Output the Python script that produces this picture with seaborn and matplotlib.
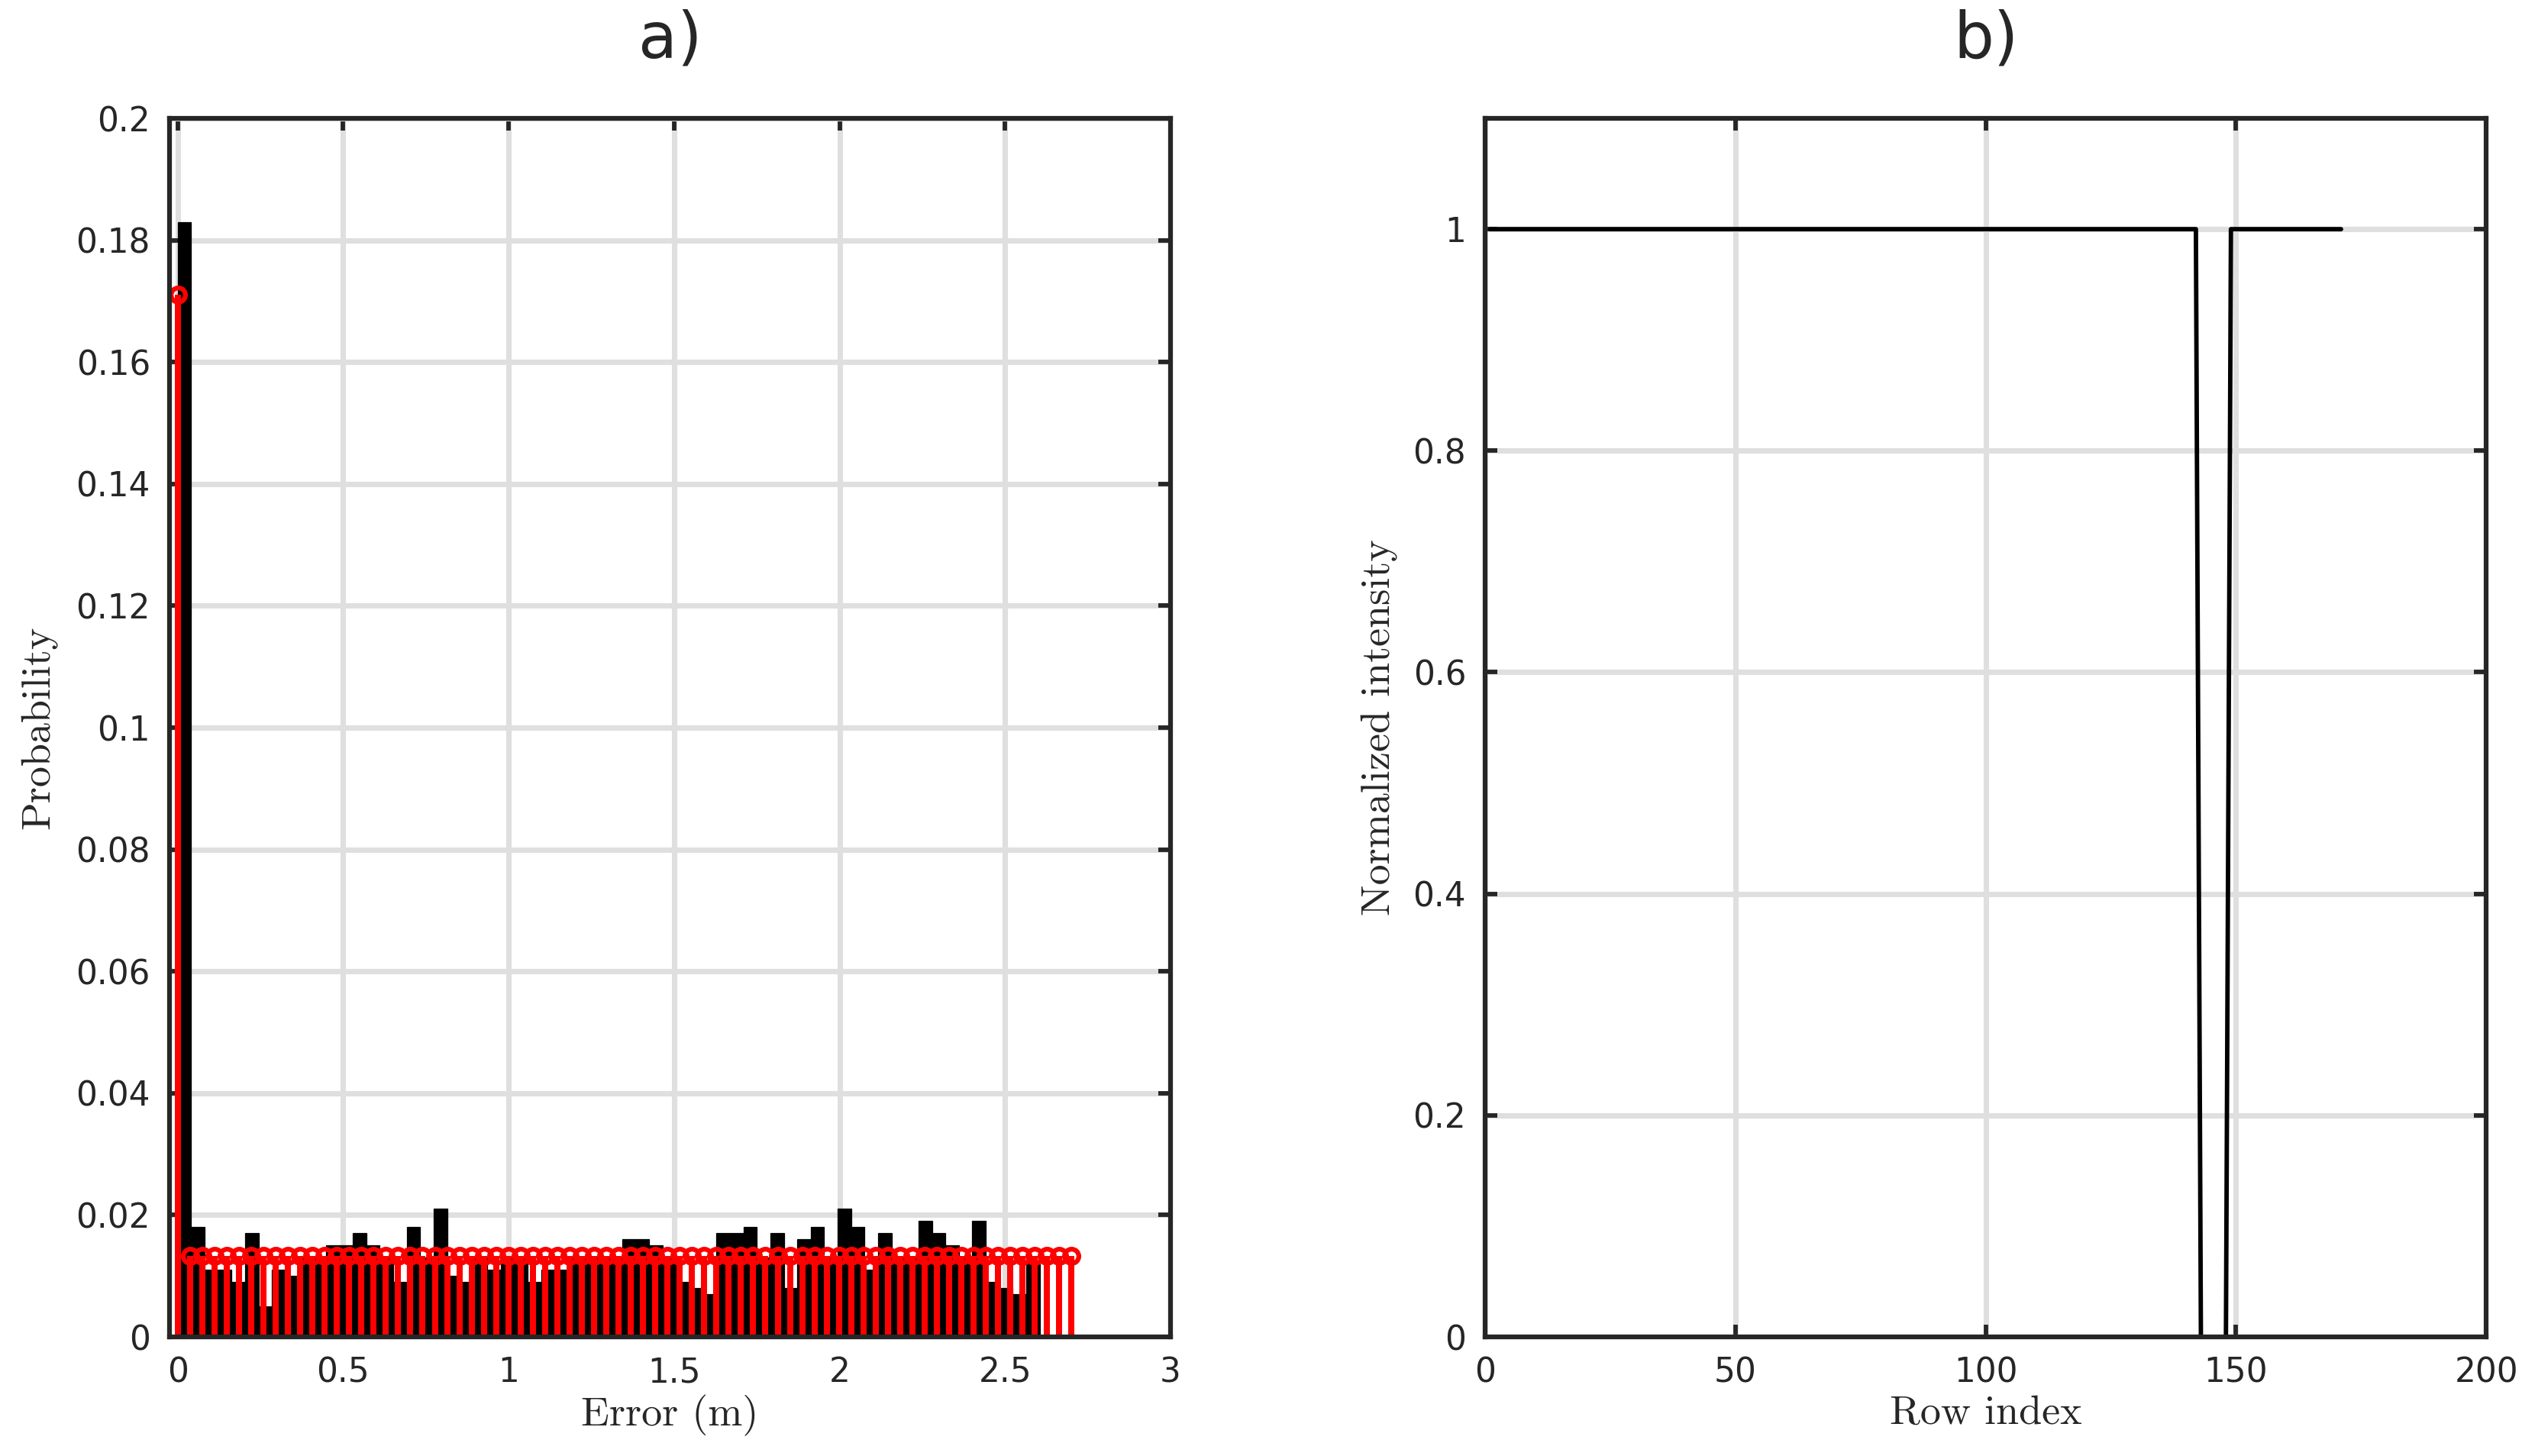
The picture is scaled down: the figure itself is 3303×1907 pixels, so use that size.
import numpy as np
import matplotlib
matplotlib.use("Agg")
import matplotlib.pyplot as plt
import pandas as pd
import seaborn as sns

sns.set_style("ticks")
plt.rcParams["font.family"] = ["DejaVu Sans"]

# a) error histogram (probability per bin), 64 bins starting at 0
err_bin_width = 0.0407
err_probs = [
    0.183, 0.018, 0.011, 0.011, 0.009, 0.017, 0.005, 0.011, 0.010, 0.013,
    0.013, 0.015, 0.015, 0.017, 0.015, 0.013, 0.009, 0.018, 0.013, 0.021,
    0.010, 0.009, 0.013, 0.011, 0.013, 0.013, 0.009, 0.011, 0.011, 0.013,
    0.013, 0.013, 0.013, 0.016, 0.016, 0.015, 0.013, 0.009, 0.008, 0.007,
    0.017, 0.017, 0.018, 0.013, 0.017, 0.008, 0.016, 0.018, 0.013, 0.021,
    0.018, 0.011, 0.017, 0.013, 0.013, 0.019, 0.017, 0.015, 0.013, 0.019,
    0.009, 0.008, 0.007, 0.012,
]

# a) red stem values
stem_x = [
    0.000, 0.037, 0.074, 0.111, 0.148, 0.185, 0.222, 0.259, 0.296, 0.333,
    0.370, 0.407, 0.444, 0.481, 0.518, 0.555, 0.592, 0.629, 0.666, 0.703,
    0.740, 0.777, 0.814, 0.851, 0.888, 0.925, 0.962, 0.999, 1.036, 1.073,
    1.110, 1.147, 1.184, 1.221, 1.258, 1.295, 1.332, 1.369, 1.406, 1.443,
    1.480, 1.517, 1.554, 1.591, 1.628, 1.665, 1.702, 1.739, 1.776, 1.813,
    1.850, 1.887, 1.924, 1.961, 1.998, 2.035, 2.072, 2.109, 2.146, 2.183,
    2.220, 2.257, 2.294, 2.331, 2.368, 2.405, 2.442, 2.479, 2.516, 2.553,
    2.590, 2.627, 2.664, 2.701,
]
stem_p = [0.171] + [0.0133] * 73

# b) intensity profile
row_idx = [1, 142, 143, 148, 149, 171]
intensity = [1, 1, 0, 0, 1, 1]

DARK = "#262626"
GRID = "#dfdfdf"

fig = plt.figure(figsize=(3303 / 300, 1907 / 300), dpi=300)
ax1 = fig.add_axes([0.0672, 0.0818, 0.3969, 0.8369])
ax2 = fig.add_axes([0.5889, 0.0818, 0.3969, 0.8369])

serif = {"family": "cmr10", "size": 13}

# ---- panel a
n_bins = len(err_probs)
centers = (np.arange(n_bins) + 0.5) * err_bin_width
hist_df = pd.DataFrame({"err": centers, "p": err_probs})
sns.histplot(data=hist_df, x="err", weights="p", bins=n_bins,
             binrange=(0, n_bins * err_bin_width), stat="count",
             color="black", alpha=1, edgecolor="black", linewidth=0.3,
             ax=ax1, zorder=2)
markerline, stemlines, baseline = ax1.stem(stem_x, stem_p, basefmt=" ")
plt.setp(stemlines, color="#ff0000", linewidth=1.45, zorder=3,
         antialiased=False)
plt.setp(markerline, color="#ff0000", marker="o", markersize=4.5,
         markerfacecolor="none", markeredgewidth=1.5, zorder=4)
ax1.set_xlim(-0.025, 3)
ax1.set_ylim(0, 0.2)
ax1.set_xticks([0, 0.5, 1, 1.5, 2, 2.5, 3])
ax1.set_xticklabels(["0", "0.5", "1", "1.5", "2", "2.5", "3"])
ax1.set_yticks(np.arange(0, 0.201, 0.02))
ax1.set_yticklabels(["0", "0.02", "0.04", "0.06", "0.08", "0.1", "0.12",
                     "0.14", "0.16", "0.18", "0.2"])
ax1.set_xlabel("Error (m)", fontdict=serif, labelpad=2)
ax1.set_ylabel("Probability", fontdict=serif, labelpad=6)
ax1.set_title("a)", fontsize=20, pad=19)

# ---- panel b
sns.lineplot(x=row_idx, y=intensity, color="black", linewidth=1.4,
             estimator=None, ax=ax2, zorder=3)
ax2.set_xlim(0, 200)
ax2.set_ylim(0, 1.1)
ax2.set_xticks([0, 50, 100, 150, 200])
ax2.set_yticks([0, 0.2, 0.4, 0.6, 0.8, 1])
ax2.set_yticklabels(["0", "0.2", "0.4", "0.6", "0.8", "1"])
ax2.set_xlabel("Row index", fontdict=serif, labelpad=2)
ax2.set_ylabel("Normalized intensity", fontdict=serif, labelpad=5)
ax2.set_title("b)", fontsize=20, pad=19)

for ax in (ax1, ax2):
    ax.set_axisbelow(True)
    ax.grid(True, color=GRID, linewidth=1.7)
    for sp in ax.spines.values():
        sp.set_visible(True)
        sp.set_color(DARK)
        sp.set_linewidth(1.5)
        sp.set_zorder(5)
    ax.tick_params(direction="in", length=3.8, width=1.4, color=DARK,
                   labelcolor=DARK, labelsize=10.5, top=True, right=True, pad=6)

fig.savefig("out.png", dpi=300)
